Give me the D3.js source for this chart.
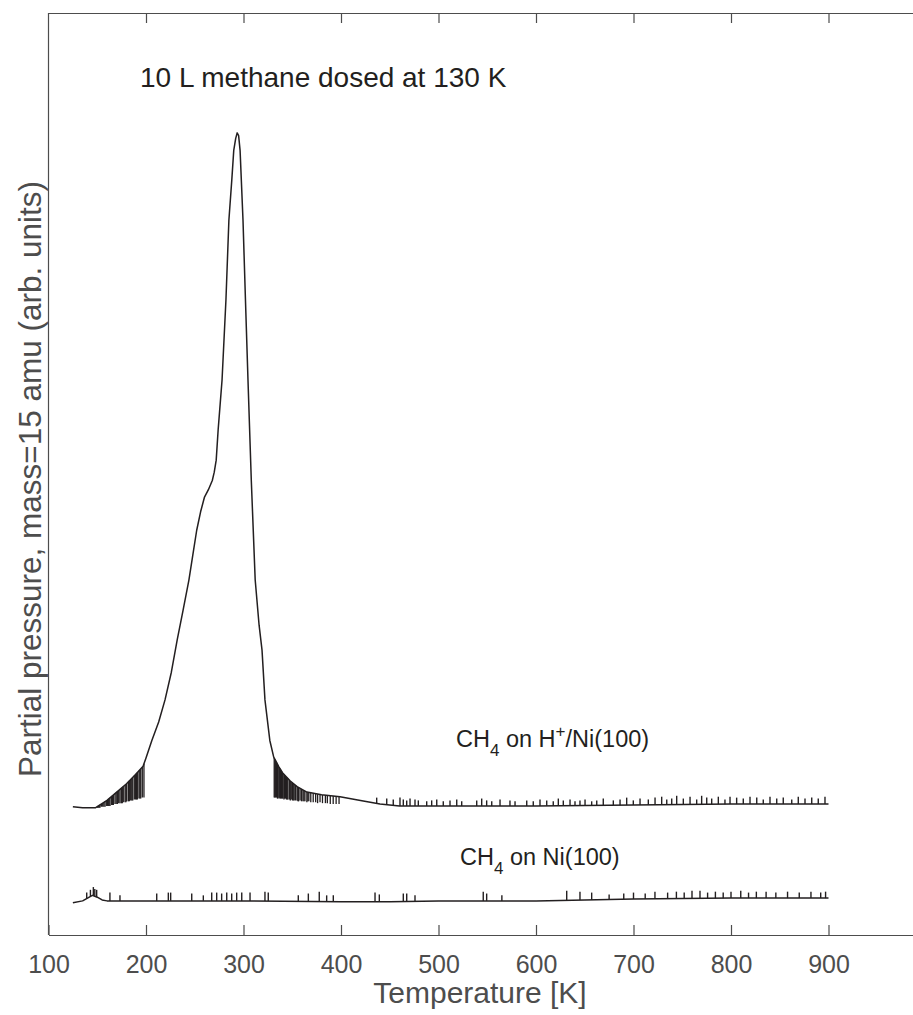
<!DOCTYPE html>
<html>
<head>
<meta charset="utf-8">
<script src="https://cdn.jsdelivr.net/npm/d3@7"></script>
<style>
  body { margin: 0; background: #fff; }
  svg { display: block; font-family: "Liberation Sans", Arial, sans-serif; }
</style>
</head>
<body>
<div id="chart"></div>
<script>
(function() {

  // temperature ticks
  var xTicks = [100, 200, 300, 400, 500, 600, 700, 800, 900];

  // CH4 on H+/Ni(100): smooth signal (T in K, arb. units)
  var hydT = [125, 135, 148, 160, 170, 180, 190, 197, 200, 206, 213, 219.5, 226, 232, 238, 244, 248, 252, 256, 260,
              264, 268, 270, 272, 274, 276, 278, 282, 285, 288, 290, 292, 293.5, 295, 296.5, 299.5, 302, 304.6, 308, 312,
              316, 319, 322, 327, 331, 336, 340, 348, 355, 365, 380, 399, 420, 440, 460, 500, 600, 700, 800, 900];
  var hydV = [13.9, 13.8, 13.8, 14.6, 15.5, 16.4, 17.5, 18.3, 19.2, 21.1, 23.1, 25.5, 28.5, 32.0, 35.2, 38.5, 41.2, 43.9, 45.9, 47.5,
              48.3, 49.3, 50.2, 51.5, 54.8, 57.5, 60.2, 68.9, 77.5, 81.9, 85.1, 86.4, 87.0, 86.7, 85.1, 77.5, 68.9, 60.2, 49.3, 38.5,
              33.6, 30.9, 25.5, 21.1, 19.3, 18.3, 17.6, 16.7, 16.1, 15.5, 15.2, 15.0, 14.6, 14.2, 14.0, 14.0, 14.0, 14.1, 14.2, 14.2];

  // CH4 on H+/Ni(100): drop-outs below the signal (T, level)
  var hydDropT = [150.2, 151.1, 152.0, 152.8, 154.2, 155.6, 156.8, 158, 159.7, 160.5, 161.3, 162.2, 163.1, 164.8, 165.6, 166.5,
                  168.2, 169.4, 170.6, 172, 173.3, 174.7, 175.7, 176.7, 178.5, 179.4, 180.2, 181.9, 182.9, 184.3, 185.4, 186.4,
                  188, 189.4, 190.2, 191.1, 192.8, 193.7, 194.6, 196.2, 197.9,
                  331.5, 332.2, 333, 334, 334.8, 335.5, 336.5, 337.2, 338, 339, 339.8, 340.5, 341.5, 342.2, 343, 344, 344.8,
                  345.5, 347, 348, 349.5, 350.2, 351, 352, 353.5, 355, 355.8, 356.5, 358, 359.5, 361, 362, 363, 365, 366,
                  367, 369, 371.5, 374, 376, 378.5, 381, 384, 386, 389, 392, 395, 398];
  var hydDropV = [13.8, 13.8, 13.8, 13.8, 13.9, 13.9, 13.9, 13.9, 14.0, 14.0, 14.0, 14.0, 14.0, 14.1, 14.1, 14.1,
                  14.2, 14.2, 14.2, 14.3, 14.3, 14.3, 14.3, 14.4, 14.4, 14.4, 14.5, 14.5, 14.5, 14.6, 14.6, 14.6,
                  14.7, 14.7, 14.7, 14.7, 14.8, 14.8, 14.8, 14.9, 14.9,
                  14.9, 14.9, 14.9, 14.9, 14.8, 14.8, 14.9, 14.8, 14.8, 14.8, 14.8, 14.8, 14.7, 14.8, 14.8, 14.7, 14.7,
                  14.7, 14.7, 14.6, 14.7, 14.6, 14.6, 14.6, 14.6, 14.6, 14.5, 14.5, 14.6, 14.5, 14.5, 14.5, 14.5, 14.4, 14.5,
                  14.5, 14.4, 14.4, 14.4, 14.3, 14.4, 14.3, 14.3, 14.3, 14.2, 14.2, 14.2, 14.2];

  // CH4 on H+/Ni(100): noise spikes above the baseline (T, top)
  var hydSpikeT = [436.6, 446.9, 453.6, 460.5, 463.9, 467.4, 470.8, 475.9, 479.3, 487.9, 493.0, 498.2, 504.9, 511.8, 518.7, 523.8,
                   539.2, 544.3, 549.4, 554.6, 563.1, 573.3, 578.5, 590.5, 597.2, 604.1, 611.0, 617.7, 622.9, 628.0, 634.9, 640.0,
                   645.1, 650.3, 657.1, 662.3, 669.0, 679.3, 686.2, 693.0, 699.8, 706.7, 715.2, 722.1, 728.9, 734.1, 739.2, 744.3,
                   751.1, 758.0, 764.8, 769.9, 775.1, 780.2, 787.0, 793.8, 799.0, 805.8, 812.6, 819.5, 826.4, 833.1, 840.0, 846.9,
                   853.6, 862.3, 869.0, 875.9, 882.8, 889.5, 896.4];
  var hydSpikeV = [14.9, 14.8, 14.7, 14.9, 14.7, 14.6, 14.8, 14.7, 14.6, 14.5, 14.6, 14.7, 14.5, 14.6, 14.7, 14.5,
                   14.6, 14.8, 14.6, 14.5, 14.7, 14.6, 14.5, 14.6, 14.5, 14.7, 14.6, 14.5, 14.8, 14.6, 14.7, 14.5,
                   14.6, 14.7, 14.5, 14.6, 14.8, 14.6, 14.7, 14.9, 14.6, 14.8, 14.7, 14.9, 15.0, 14.7, 14.8, 15.1,
                   14.8, 15.0, 14.7, 15.1, 14.9, 14.8, 15.0, 14.7, 15.0, 14.9, 14.8, 15.0, 14.9, 14.7, 15.0, 14.8,
                   14.9, 14.7, 15.0, 14.8, 14.9, 14.8, 15.0];

  // CH4 on Ni(100): baseline (T, arb. units)
  var cleanT = [125, 135, 140, 145, 150, 155, 160, 200, 300, 400, 450, 500, 600, 650, 700, 800, 900];
  var cleanV = [3.5, 3.7, 4.0, 4.3, 4.1, 3.8, 3.7, 3.7, 3.7, 3.6, 3.6, 3.7, 3.7, 3.8, 3.9, 4.0, 4.0];

  // CH4 on Ni(100): noise spikes (T, top)
  var cleanSpikeT = [139.2, 143, 146, 147.5, 149.4, 163, 173.3, 211, 222.9, 225.3, 246.9, 258.8, 267.4, 272.5, 277.6, 282.8,
                     287.9, 293, 298.2, 306.7, 322, 325.4, 356.2, 366.5, 377.7, 385.3, 392.1, 434.9, 439.3, 463.9, 467.4,
                     475.9, 545.9, 549.4, 565, 631.5, 645.1, 657.1, 675, 690, 700, 712, 722, 735, 744, 752, 760, 768.2,
                     776, 784, 792, 800, 810, 818, 826, 836, 846, 858, 870, 882, 892, 897];
  var cleanSpikeV = [4.6, 4.9, 5.2, 5.0, 4.9, 4.6, 4.3, 4.5, 4.6, 4.6, 4.5, 4.3, 4.6, 4.6, 4.5, 4.6,
                     4.5, 4.6, 4.6, 4.6, 4.7, 4.6, 4.3, 4.5, 4.7, 4.3, 4.3, 4.6, 4.4, 4.5, 4.5,
                     4.3, 4.7, 4.5, 4.3, 4.8, 4.7, 4.6, 4.4, 4.5, 4.6, 4.5, 4.7, 4.6, 4.7, 4.6, 4.8, 4.8,
                     4.6, 4.7, 4.6, 4.7, 4.8, 4.6, 4.7, 4.7, 4.6, 4.7, 4.6, 4.7, 4.6, 4.7];

  var width = 913, height = 1015;
  var ink = '#231f20', axisGrey = '#4d4d4d';

  var svg = d3.select('#chart')
              .append('svg')
              .attr('width', width)
              .attr('height', height);

  svg.append('rect').attr('width', width).attr('height', height).attr('fill', '#fff');

  var x = d3.scaleLinear().domain([100, 1000]).range([48.5, 926]);
  var y = d3.scaleLinear().domain([0, 100]).range([935, 13]);

  // piecewise envelopes, used to anchor spikes on the drawn line
  var hydEnv = d3.scaleLinear().domain(hydT).range(hydV);
  var cleanEnv = d3.scaleLinear().domain(cleanT).range(cleanV);

  var line = d3.line()
    .x(function(d) { return x(d[0]); })
    .y(function(d) { return y(d[1]); });

  function drawTrace(ts, vs) {
    svg.append('path')
      .datum(ts.map(function(t, i) { return [t, vs[i]]; }))
      .attr('fill', 'none')
      .attr('stroke', ink)
      .attr('stroke-width', 1.5)
      .attr('stroke-linejoin', 'round')
      .attr('d', line);
  }

  function drawSpikes(ts, vs, env, w) {
    svg.append('g')
      .selectAll('path')
      .data(ts.map(function(t, i) { return [t, vs[i]]; }))
      .enter()
      .append('path')
      .attr('fill', 'none')
      .attr('stroke', ink)
      .attr('stroke-width', w)
      .attr('d', function(d) { return line([[d[0], env(d[0])], [d[0], d[1]]]); });
  }

  drawSpikes(hydDropT, hydDropV, hydEnv, 1.3);
  drawSpikes(hydSpikeT, hydSpikeV, hydEnv, 1.4);
  drawTrace(hydT, hydV);
  drawSpikes(cleanSpikeT, cleanSpikeV, cleanEnv, 1.4);
  drawTrace(cleanT, cleanV);

  // axes box
  var bottom = svg.append('g')
    .attr('transform', 'translate(0,' + y(0) + ')')
    .call(d3.axisBottom(x).tickValues(xTicks).tickSizeInner(-10).tickSizeOuter(0).tickPadding(20));
  bottom.select('.domain').attr('stroke', axisGrey).attr('stroke-width', 1.2);
  bottom.selectAll('.tick line').attr('stroke', axisGrey).attr('stroke-width', 1.2);
  bottom.selectAll('.tick text')
    .attr('fill', axisGrey)
    .style('font-size', '25px')
    .style('font-family', '"Liberation Sans", Arial, sans-serif');

  var top = svg.append('g')
    .attr('transform', 'translate(0,' + y(100) + ')')
    .call(d3.axisTop(x).tickValues(xTicks.slice(1)).tickSizeInner(-10).tickSizeOuter(0).tickFormat(''));
  top.select('.domain').attr('stroke', axisGrey).attr('stroke-width', 1.2);
  top.selectAll('.tick line').attr('stroke', axisGrey).attr('stroke-width', 1.2);

  svg.append('line')
    .attr('x1', x(100)).attr('x2', x(100))
    .attr('y1', y(100)).attr('y2', y(0))
    .attr('stroke', axisGrey)
    .attr('stroke-width', 1.2);

  // axis labels
  svg.append('text')
    .attr('x', 480)
    .attr('y', 1003)
    .attr('text-anchor', 'middle')
    .attr('fill', axisGrey)
    .style('font-size', '30px')
    .text('Temperature [K]');

  svg.append('text')
    .attr('transform', 'translate(41,' + ((y(0) + y(100)) / 2 + 5) + ') rotate(-90)')
    .attr('text-anchor', 'middle')
    .attr('fill', axisGrey)
    .style('font-size', '31.5px')
    .text('Partial pressure, mass=15 amu (arb. units)');

  // annotations
  svg.append('text')
    .attr('x', 140)
    .attr('y', 87)
    .attr('fill', ink)
    .style('font-size', '28px')
    .text('10 L methane dosed at 130 K');

  var lab1 = svg.append('text')
    .attr('x', 456)
    .attr('y', 747)
    .attr('fill', ink)
    .style('font-size', '23.5px');
  lab1.append('tspan').text('CH');
  lab1.append('tspan').attr('dy', 9).style('font-size', '17px').text('4');
  lab1.append('tspan').attr('dy', -9).text(' on H');
  lab1.append('tspan').attr('dy', -10).style('font-size', '17px').text('+');
  lab1.append('tspan').attr('dy', 10).text('/Ni(100)');

  var lab2 = svg.append('text')
    .attr('x', 460)
    .attr('y', 865)
    .attr('fill', ink)
    .style('font-size', '23.5px');
  lab2.append('tspan').text('CH');
  lab2.append('tspan').attr('dy', 9).style('font-size', '17px').text('4');
  lab2.append('tspan').attr('dy', -9).text(' on Ni(100)');

})()
</script>
</body>
</html>
